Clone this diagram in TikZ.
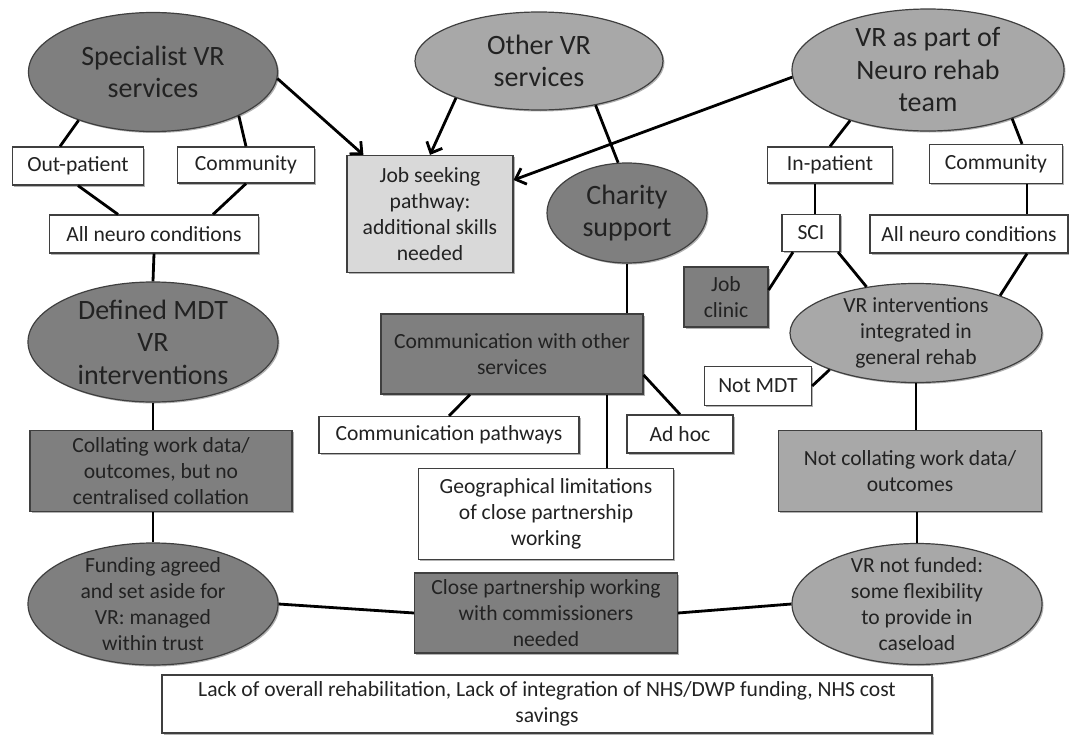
\documentclass[tikz,border=0pt]{standalone}
\usepackage{fontspec}
\setmainfont{Carlito}
\usetikzlibrary{arrows.meta,shapes.geometric,shadows}
\definecolor{dk}{HTML}{7F7F7F}
\definecolor{md}{HTML}{A8A8A8}
\definecolor{lt}{HTML}{D9D9D9}
\definecolor{bd}{HTML}{3F3F3F}
\definecolor{tx}{HTML}{222222}
\tikzset{
  base/.style={draw=bd, line width=1.2pt, text=tx, align=center, inner sep=0pt,
    font=\fontsize{21.6}{26}\selectfont,
    drop shadow={shadow xshift=1.5pt, shadow yshift=-1.5pt, fill=black, opacity=0.3}},
  box/.style={base, rectangle, fill=white},
  ell/.style={base, ellipse, inner sep=-8pt},
  big/.style={font=\fontsize{28}{32.5}\selectfont},
  conn/.style={line width=2.8pt, black},
  arr/.style={conn, -{Straight Barb[length=9pt,width=17pt]}},
}
\begin{document}
\begin{tikzpicture}[x=1pt,y=-1pt]
\useasboundingbox (0,0) rectangle (1069,736);
% top-left cluster
\node[ell, big, fill=dk, minimum width=249, minimum height=119] (spec) at (153,72) {Specialist VR\\services};
\node[box, minimum width=131, minimum height=38] (outp) at (78,166) {Out-patient};
\node[box, minimum width=137, minimum height=36] (comL) at (246,165) {Community};
\node[box, minimum width=209, minimum height=38] (allL) at (154,234) {All neuro conditions};
\node[ell, big, fill=dk, minimum width=250, minimum height=120] (mdt) at (153,342) {Defined MDT\\VR\\interventions};
\node[box, fill=dk, minimum width=262, minimum height=81] (coll) at (161,471) {Collating work data/\\outcomes, but no\\centralised collation};
\node[ell, fill=dk, minimum width=250, minimum height=122] (fund) at (153,604) {Funding agreed\\and set aside for\\VR: managed\\within trust};
% middle
\node[ell, big, fill=md, minimum width=248, minimum height=98] (other) at (539,61) {Other VR\\services};
\node[box, fill=lt, minimum width=166, minimum height=117] (job) at (430,214) {Job seeking\\pathway:\\additional skills\\needed};
\node[ell, big, fill=dk, minimum width=160, minimum height=100] (char) at (627,213) {Charity\\support};
\node[box, fill=dk, minimum width=262, minimum height=80] (commb) at (512,354) {Communication with other\\services};
\node[box, minimum width=260, minimum height=37] (path) at (449,435) {Communication pathways};
\node[box, minimum width=106, minimum height=38] (adhoc) at (680,434) {Ad hoc};
\node[box, minimum width=255, minimum height=91] (geo) at (546,514) {Geographical limitations\\of close partnership\\working};
\node[box, fill=dk, minimum width=263, minimum height=80] (close) at (546,613) {Close partnership working\\with commissioners\\needed};
\node[box, minimum width=770, minimum height=58] (lack) at (547,704) {Lack of overall rehabilitation, Lack of integration of NHS/DWP funding, NHS cost\\savings};
% right cluster
\node[ell, big, fill=md, minimum width=272, minimum height=122] (neuro) at (928,70) {VR as part of\\Neuro rehab\\team};
\node[box, minimum width=125, minimum height=36] (inp) at (830,165) {In-patient};
\node[box, minimum width=133, minimum height=39] (comR) at (996,164) {Community};
\node[box, minimum width=58, minimum height=37] (sci) at (811,233) {SCI};
\node[box, minimum width=198, minimum height=38] (allR) at (969,234) {All neuro conditions};
\node[box, fill=dk, minimum width=84, minimum height=60] (jc) at (726,297) {Job\\clinic};
\node[ell, fill=md, minimum width=252, minimum height=99] (vrint) at (916,333) {VR interventions\\integrated in\\general rehab};
\node[box, minimum width=107, minimum height=39] (notmdt) at (758,386) {Not MDT};
\node[box, fill=md, minimum width=263, minimum height=81] (notcoll) at (910,471) {Not collating work data/\\outcomes};
\node[ell, fill=md, minimum width=250, minimum height=121] (notfund) at (917,604) {VR not funded:\\some flexibility\\to provide in\\caseload};
% connectors left
\draw[conn] (spec.213) -- ([xshift=-18pt]outp.north);
\draw[conn] (spec.333) -- (comL.north);
\draw[conn] (outp.south) -- ([xshift=-36pt]allL.north);
\draw[conn] (comL.south) -- ([xshift=59pt]allL.north);
\draw[conn] (allL.south) -- (mdt.north);
\draw[conn] (mdt.south) -- (mdt.south |- coll.north);
\draw[conn] (fund.north) -- (fund.north |- coll.south);
\draw[conn] (fund.east) -- (close.west);
\draw[conn] (close.east) -- (notfund.west);
% arrows
\draw[arr] (spec.357) -- ([xshift=17pt]job.north west);
\draw[arr] (other.204) -- (job.north);
\draw[arr] (neuro.183) -- ([yshift=34pt]job.east);
% middle connectors
\draw[conn] (other.322) -- (char.100);
\draw[conn] (char.south) -- (char.south |- commb.north);
\draw[conn] ([xshift=-42pt]commb.south) -- (path.north);
\draw[conn] ([yshift=-21pt]commb.east) -- (adhoc.north);
\draw[conn] ([xshift=95pt]commb.south) -- ([xshift=95pt]commb.south |- geo.north);
% right connectors
\draw[conn] (neuro.213) -- (inp.north);
\draw[conn] (neuro.330) -- ([xshift=26pt]comR.north);
\draw[conn] ([xshift=4pt]sci.north) -- ([xshift=4pt]sci.north |- inp.south);
\draw[conn] ([xshift=31pt]comR.south) -- ([xshift=31pt]comR.south |- allR.north);
\draw[conn] ([xshift=-18pt]sci.south) -- ([yshift=7pt]jc.east);
\draw[conn] ([xshift=27pt]sci.south) -- (vrint.137);
\draw[conn] ([xshift=58pt]allR.south) -- (vrint.24);
\draw[conn] (notmdt.east) -- (vrint.203);
\draw[conn] (vrint.south) -- (vrint.south |- notcoll.north);
\draw[conn] (notfund.north) -- (notfund.north |- notcoll.south);
\end{tikzpicture}
\end{document}
